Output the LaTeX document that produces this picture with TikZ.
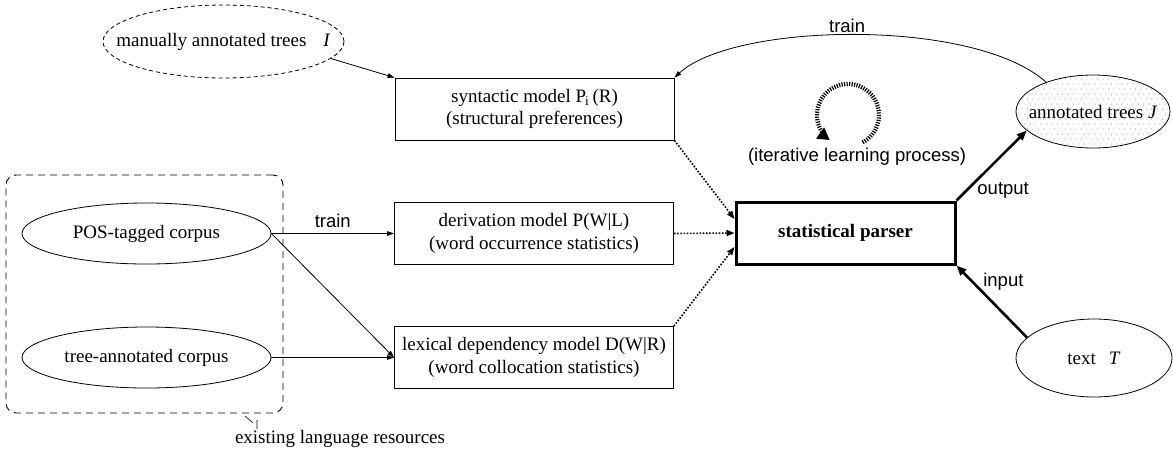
\documentclass[tikz,border=0pt]{standalone}
\usepackage{fontspec}
\setmainfont{Liberation Serif}
\setsansfont{Liberation Sans}
\usetikzlibrary{shapes.geometric,arrows.meta,calc}
\newcommand\zwbox[1]{\makebox[0pt][c]{#1}}
\begin{document}
\begin{tikzpicture}[x=1pt,y=-1pt,
  every node/.style={font=\fontsize{19}{22.5}\selectfont},
  box/.style={draw,line width=0.8pt,rectangle,minimum width=279pt,minimum height=62pt,align=center,inner sep=0pt},
  ell/.style={draw,line width=0.8pt,ellipse,inner sep=0pt,align=center},
  thinarrow/.style={line width=0.8pt,-{Triangle[length=7pt,width=4.5pt]}},
  dotarrow/.style={line width=1.6pt,dash pattern=on 1.6pt off 1.6pt,-{Triangle[length=8pt,width=6pt]}},
  thickarrow/.style={line width=2.6pt,-{Triangle[length=10pt,width=8pt]}},
  lbl/.style={font=\sffamily\fontsize{18.5}{20}\selectfont,inner sep=1pt}]

\useasboundingbox (0,0) rectangle (1173,451);

% group frame
\node[draw,line width=0.9pt,dash pattern=on 7pt off 5pt,rounded corners=10pt,minimum width=277pt,minimum height=238pt] (group) at (144.5,294) {};
\coordinate (ld1) at (245,416);
\coordinate (ld2) at (253,423);
\coordinate (ld3) at (257,420);
\coordinate (ld4) at (257,429);
\draw[line width=0.6pt] (ld1) -- (ld2) (ld3) -- (ld4);
\node (res) at (340,439) {existing language resources};

% left ellipses
\node[ell,minimum width=241pt,minimum height=73pt,dash pattern=on 4pt off 3pt] (manual) at (223.5,41.5) {\zwbox{manually annotated trees\hspace{0.9em}\textit{I}}};
\node[ell,minimum width=249pt,minimum height=61pt] (pos) at (146.5,233.5) {\zwbox{POS-tagged corpus}};
\node[ell,minimum width=249pt,minimum height=61pt] (tree) at (146.5,357.5) {\zwbox{tree-annotated corpus}};

% model boxes
\node[box] (syn) at (534.5,109) {syntactic model P\kern-1pt\textsubscript{i}\,(R)\\(structural preferences)};
\node[box] (der) at (534,233.5) {derivation model P(W|L)\\(word occurrence statistics)};
\node[box] (lex) at (534,357.5) {lexical dependency model D(W|R)\\(word collocation statistics)};

% parser
\node[draw,line width=3pt,minimum width=219pt,minimum height=62pt,inner sep=0pt] (parser) at (845.5,233) {\textbf{statistical parser}};

% annotated trees J with dots
\coordinate (Jc) at (1093,111.5);
\begin{scope}
  \clip (Jc) ellipse [x radius=77, y radius=36.5];
  \foreach \j in {0,...,15}{
    \foreach \i in {0,...,30}{
      \fill[gray!80] ({1014+\i*5.4+mod(\j,2)*2.7},{74+\j*5.0}) circle (0.55pt);
    }
  }
\end{scope}
\node[ell,minimum width=154pt,minimum height=73pt] (J) at (Jc) {\zwbox{annotated trees \textit{J}}};

% text T
\node[ell,minimum width=156pt,minimum height=78pt] (T) at (1094,358) {\zwbox{text\hspace{0.68em}\textit{T}}};

% iterative loop
\coordinate (loopc) at (848,115);
\draw[line width=4.2pt,dash pattern=on 1.2pt off 1.3pt,-{Triangle[length=12pt,width=13pt]}] ($(loopc)+(62:31)$) arc[start angle=62,end angle=-234,radius=31];
\node[lbl] (iter) at (857,157) {(iterative learning process)};

% connectors
\draw[thinarrow] (manual.-9) -- (syn.north west);
\draw[thinarrow] (J.148) .. controls (975,18) and (735,22) .. (syn.north east) node[lbl,pos=0.52,above,yshift=1pt] {train};
\draw[thinarrow] (pos.east) -- (der.west) node[lbl,midway,above,yshift=4pt] {train};
\draw[thinarrow] (pos.east) -- (lex.west);
\draw[thinarrow] (tree.east) -- (lex.west);

\draw[dotarrow] (syn.south east) -- ([yshift=14pt]parser.west);
\draw[dotarrow] (der.east) -- (parser.west);
\draw[dotarrow] (lex.north east) -- ([yshift=-14pt]parser.west);

\draw[thickarrow] (parser.north east) -- (J.196) node[lbl,pos=0.28,anchor=north west,inner sep=0pt] {output};
\draw[thickarrow] (T.163) -- (parser.south east) node[lbl,pos=0.78,anchor=west,xshift=9pt] {input};
\end{tikzpicture}
\end{document}
